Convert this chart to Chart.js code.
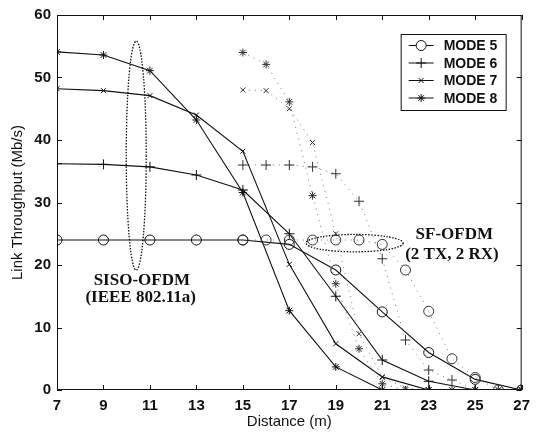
<!DOCTYPE html>
<html>
<head>
<meta charset="utf-8">
<script src="https://cdn.jsdelivr.net/npm/chart.js@4.4.0/dist/chart.umd.min.js"></script>
<style>
  html, body { margin: 0; padding: 0; background: #fff; }
  #wrap { width: 537px; height: 432px; }
</style>
</head>
<body>
<div id="wrap"><canvas id="throughputChart"></canvas></div>
<script>
// distances (m)
const sisoDistance = [7, 9, 11, 13, 15, 17, 19, 21, 23, 25, 27];
const sfDistance = [15, 16, 17, 18, 19, 20, 21, 22, 23, 24, 25, 26, 27];

// SISO-OFDM (IEEE 802.11a), solid lines
const sisoMode5 = [24, 24, 24, 24, 24, 23.3, 19.2, 12.5, 6.0, 1.7, 0];
const sisoMode6 = [36.2, 36.1, 35.7, 34.4, 32, 25, 15, 4.8, 1.4, 0, 0];
const sisoMode7 = [48.2, 47.9, 47.1, 44, 38.2, 20.1, 7.4, 2.1, 0, 0, 0];
const sisoMode8 = [54.1, 53.6, 51.1, 43.2, 31.6, 12.7, 3.7, 0, 0, 0, 0];

// SF-OFDM (2 TX, 2 RX), dotted lines
const sfMode5 = [24, 24, 24, 24, 24, 24, 23.3, 19.2, 12.6, 5.0, 2.0, 0, 0];
const sfMode6 = [36, 36, 36, 35.7, 34.6, 30.2, 21, 8, 3.2, 1.6, 0, 0, 0];
const sfMode7 = [48, 47.9, 45, 39.6, 25, 9, 2, 0.3, 0, 0, 0, 0, 0];
const sfMode8 = [54, 52.1, 46.1, 31.1, 17, 6.6, 1, 0, 0, 0, 0, 0, 0];

const modeNames = ['MODE 5', 'MODE 6', 'MODE 7', 'MODE 8'];
const xTicks = [7, 9, 11, 13, 15, 17, 19, 21, 23, 25, 27];
const yTicks = [0, 10, 20, 30, 40, 50, 60];

const markers = [
  { pointStyle: 'circle', radius: 5 },
  { pointStyle: 'cross', radius: 5 },
  { pointStyle: 'crossRot', radius: 3.5 },
  { pointStyle: 'star', radius: 4 }
];

function toPoints(xs, ys) {
  return xs.map((x, i) => ({ x: x, y: ys[i] }));
}

function makeSet(label, xs, ys, m, dotted) {
  return {
    label: label,
    data: toPoints(xs, ys),
    borderColor: dotted ? '#777' : '#111',
    borderWidth: dotted ? 1 : 1.1,
    borderDash: dotted ? [1, 5] : [],
    pointStyle: markers[m].pointStyle,
    pointRadius: markers[m].radius,
    pointBorderColor: dotted ? '#333' : '#111',
    pointBorderWidth: 1,
    pointBackgroundColor: 'rgba(0,0,0,0)',
    fill: false,
    tension: 0
  };
}

const sisoSets = [sisoMode5, sisoMode6, sisoMode7, sisoMode8];
const sfSets = [sfMode5, sfMode6, sfMode7, sfMode8];

const datasets = [];
sfSets.forEach((ys, i) => datasets.push(makeSet('SF ' + modeNames[i], sfDistance, ys, i, true)));
sisoSets.forEach((ys, i) => datasets.push(makeSet(modeNames[i], sisoDistance, ys, i, false)));

// frame, inward ticks, ellipses, notes and the legend box
const extras = {
  id: 'extras',
  afterDraw(chart) {
    const ctx = chart.ctx;
    const a = chart.chartArea;
    const xs = chart.scales.x, ys = chart.scales.y;
    ctx.save();
    ctx.strokeStyle = '#111';
    ctx.lineWidth = 1;
    ctx.setLineDash([]);
    ctx.strokeRect(a.left + 0.5, a.top + 0.5, a.right - a.left - 1, a.bottom - a.top - 1);

    ctx.beginPath();
    xTicks.forEach(v => {
      const px = Math.round(xs.getPixelForValue(v)) + 0.5;
      ctx.moveTo(px, a.bottom); ctx.lineTo(px, a.bottom - 5);
      ctx.moveTo(px, a.top); ctx.lineTo(px, a.top + 5);
    });
    yTicks.forEach(v => {
      const py = Math.round(ys.getPixelForValue(v)) + 0.5;
      ctx.moveTo(a.left, py); ctx.lineTo(a.left + 5, py);
      ctx.moveTo(a.right, py); ctx.lineTo(a.right - 5, py);
    });
    ctx.stroke();

    // dotted ellipses
    ctx.setLineDash([1.5, 1.5]);
    ctx.lineWidth = 1.3;
    ctx.beginPath();
    ctx.ellipse(xs.getPixelForValue(10.41), ys.getPixelForValue(37.5), 10, 114.5, 0, 0, Math.PI * 2);
    ctx.stroke();
    ctx.beginPath();
    ctx.ellipse(xs.getPixelForValue(19.81), ys.getPixelForValue(23.5), 48.5, 8.7, 0, 0, Math.PI * 2);
    ctx.stroke();
    ctx.setLineDash([]);

    ctx.fillStyle = '#111';
    ctx.font = 'bold 17px "Liberation Serif", "Times New Roman", serif';
    ctx.textAlign = 'center';
    ctx.textBaseline = 'middle';
    ctx.fillText('SISO-OFDM', xs.getPixelForValue(10.65), ys.getPixelForValue(17.5));
    ctx.fillText('(IEEE 802.11a)', xs.getPixelForValue(10.6), ys.getPixelForValue(14.8));
    ctx.fillText('SF-OFDM', xs.getPixelForValue(24.1), ys.getPixelForValue(24.9));
    ctx.fillText('(2 TX, 2 RX)', xs.getPixelForValue(24.0), ys.getPixelForValue(21.6));

    // legend
    const bx = a.right - 121, by = a.top + 19, bw = 105, bh = 76;
    ctx.fillStyle = '#fff';
    ctx.fillRect(bx, by, bw, bh);
    ctx.strokeStyle = '#111';
    ctx.lineWidth = 1;
    ctx.strokeRect(bx + 0.5, by + 0.5, bw, bh);
    ctx.font = 'bold 14px "Liberation Sans", Arial, sans-serif';
    ctx.textAlign = 'left';
    modeNames.forEach((name, i) => {
      const ly = by + 11.5 + i * 17.5;
      ctx.beginPath();
      ctx.moveTo(bx + 8, ly); ctx.lineTo(bx + 33, ly);
      ctx.stroke();
      Chart.helpers.drawPoint(ctx, {
        pointStyle: markers[i].pointStyle,
        radius: markers[i].radius,
        borderWidth: 1
      }, bx + 20.5, ly);
      ctx.fillStyle = '#111';
      ctx.fillText(name, bx + 43, ly + 1);
    });
    ctx.restore();
  }
};

new Chart(document.getElementById('throughputChart'), {
  type: 'line',
  data: { datasets: datasets },
  options: {
    responsive: true,
    maintainAspectRatio: false,
    animation: false,
    devicePixelRatio: 1,
    layout: { padding: { top: 12, right: 11, left: 0, bottom: 0 } },
    plugins: {
      legend: { display: false },
      tooltip: { enabled: false }
    },
    scales: {
      x: {
        type: 'linear',
        min: 7,
        max: 27,
        afterFit: s => { s.height = 42; },
        afterBuildTicks: s => { s.ticks = xTicks.map(v => ({ value: v })); },
        grid: { display: false, drawTicks: false },
        border: { display: false },
        ticks: {
          padding: 7,
          color: '#111',
          maxRotation: 0,
          font: { family: '"Liberation Sans", Arial, sans-serif', size: 15, weight: 'bold' }
        },
        title: {
          display: true,
          text: 'Distance (m)',
          color: '#111',
          padding: { top: 0, bottom: 1 },
          font: { family: '"Liberation Sans", Arial, sans-serif', size: 15 }
        }
      },
      y: {
        min: 0,
        max: 60,
        afterFit: s => { s.width = 57; },
        afterBuildTicks: s => { s.ticks = yTicks.map(v => ({ value: v })); },
        grid: { display: false, drawTicks: false },
        border: { display: false },
        ticks: {
          padding: 6,
          color: '#111',
          font: { family: '"Liberation Sans", Arial, sans-serif', size: 15, weight: 'bold' }
        },
        title: {
          display: true,
          text: 'Link Throughput (Mb/s)',
          color: '#111',
          padding: { top: 9, bottom: 0 },
          font: { family: '"Liberation Sans", Arial, sans-serif', size: 15 }
        }
      }
    }
  },
  plugins: [extras]
});
</script>
</body>
</html>
